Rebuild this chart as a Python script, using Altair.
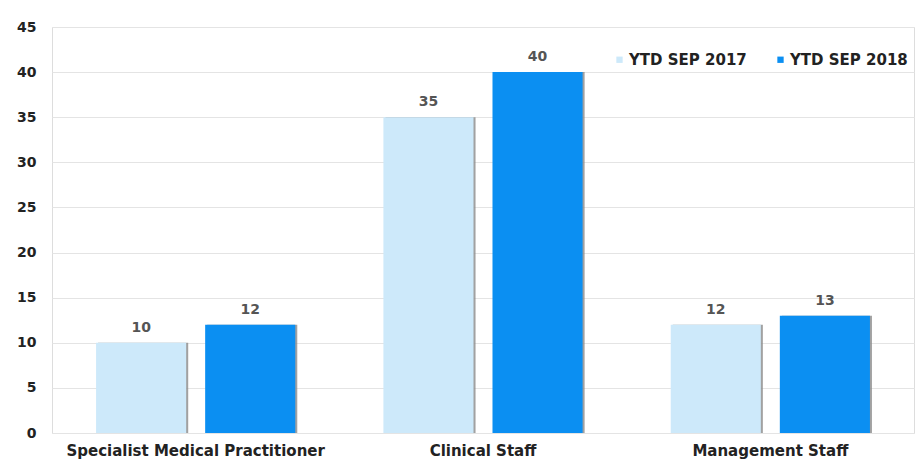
import altair as alt
import pandas as pd

categories = ["Specialist Medical Practitioner", "Clinical Staff", "Management Staff"]
series = ["YTD SEP 2017", "YTD SEP 2018"]
values_2017 = [10, 35, 12]
values_2018 = [12, 40, 13]

rows = []
for cat, a, b in zip(categories, values_2017, values_2018):
    rows.append({"category": cat, "period": series[0], "value": a})
    rows.append({"category": cat, "period": series[1], "value": b})
df = pd.DataFrame(rows)

colors = ["#cde9fa", "#0b8ff2"]
font = "DejaVu Sans"
text_color = "#222222"

x_enc = alt.X("category:N", sort=categories, title=None,
              scale=alt.Scale(paddingInner=0, paddingOuter=0),
              axis=alt.Axis(labelAngle=0, labelFont=font, labelFontWeight="bold",
                            labelFontSize=15, labelColor=text_color, labelPadding=10,
                            labelLimit=0, ticks=False, domain=False))
y_scale = alt.Scale(domain=[0, 45], nice=False)


def offset(align=0.5):
    return alt.XOffset("period:N", sort=series,
                       scale=alt.Scale(paddingInner=0.174, paddingOuter=0.404,
                                       align=align))


# soft drop shadow along the right edge of each bar (same bars nudged ~2px right)
shadow = alt.Chart(df).mark_bar(color="#8a8a8a", opacity=0.8).encode(
    x=x_enc, xOffset=offset(0.523),
    y=alt.Y("value:Q", scale=y_scale),
)

base = alt.Chart(df).encode(x=x_enc, xOffset=offset())

bars = base.mark_bar().encode(
    y=alt.Y("value:Q", title=None, scale=y_scale,
            axis=alt.Axis(values=list(range(0, 46, 5)), labelFont=font,
                          labelFontWeight="bold", labelFontSize=14,
                          labelColor=text_color, labelPadding=16,
                          ticks=False, domain=False, gridColor="#e4e4e4")),
    color=alt.Color("period:N", sort=series,
                    scale=alt.Scale(domain=series, range=colors),
                    legend=alt.Legend(title=None, orient="none", direction="horizontal",
                                      legendX=560, legendY=25, symbolType="square",
                                      symbolSize=40, symbolStrokeWidth=0,
                                      labelFont=font, labelFontWeight="bold",
                                      labelFontSize=15, labelColor=text_color,
                                      columnPadding=26, labelOffset=2)),
)

labels = base.mark_text(dy=-15, font=font, fontWeight="bold", fontSize=14,
                        color="#555555").encode(
    y=alt.Y("value:Q", scale=y_scale),
    text="value:Q",
)

chart = (
    alt.layer(shadow, bars + labels)
    .resolve_scale(xOffset="independent")
    .properties(
        width=862, height=406,
        padding={"left": 52, "top": 27, "right": 3, "bottom": 31},
        autosize="none",
    )
    .configure_view(stroke=None)
    .configure(background="white")
)

chart.save("out.html", embed_options={"renderer": "svg", "actions": False})
